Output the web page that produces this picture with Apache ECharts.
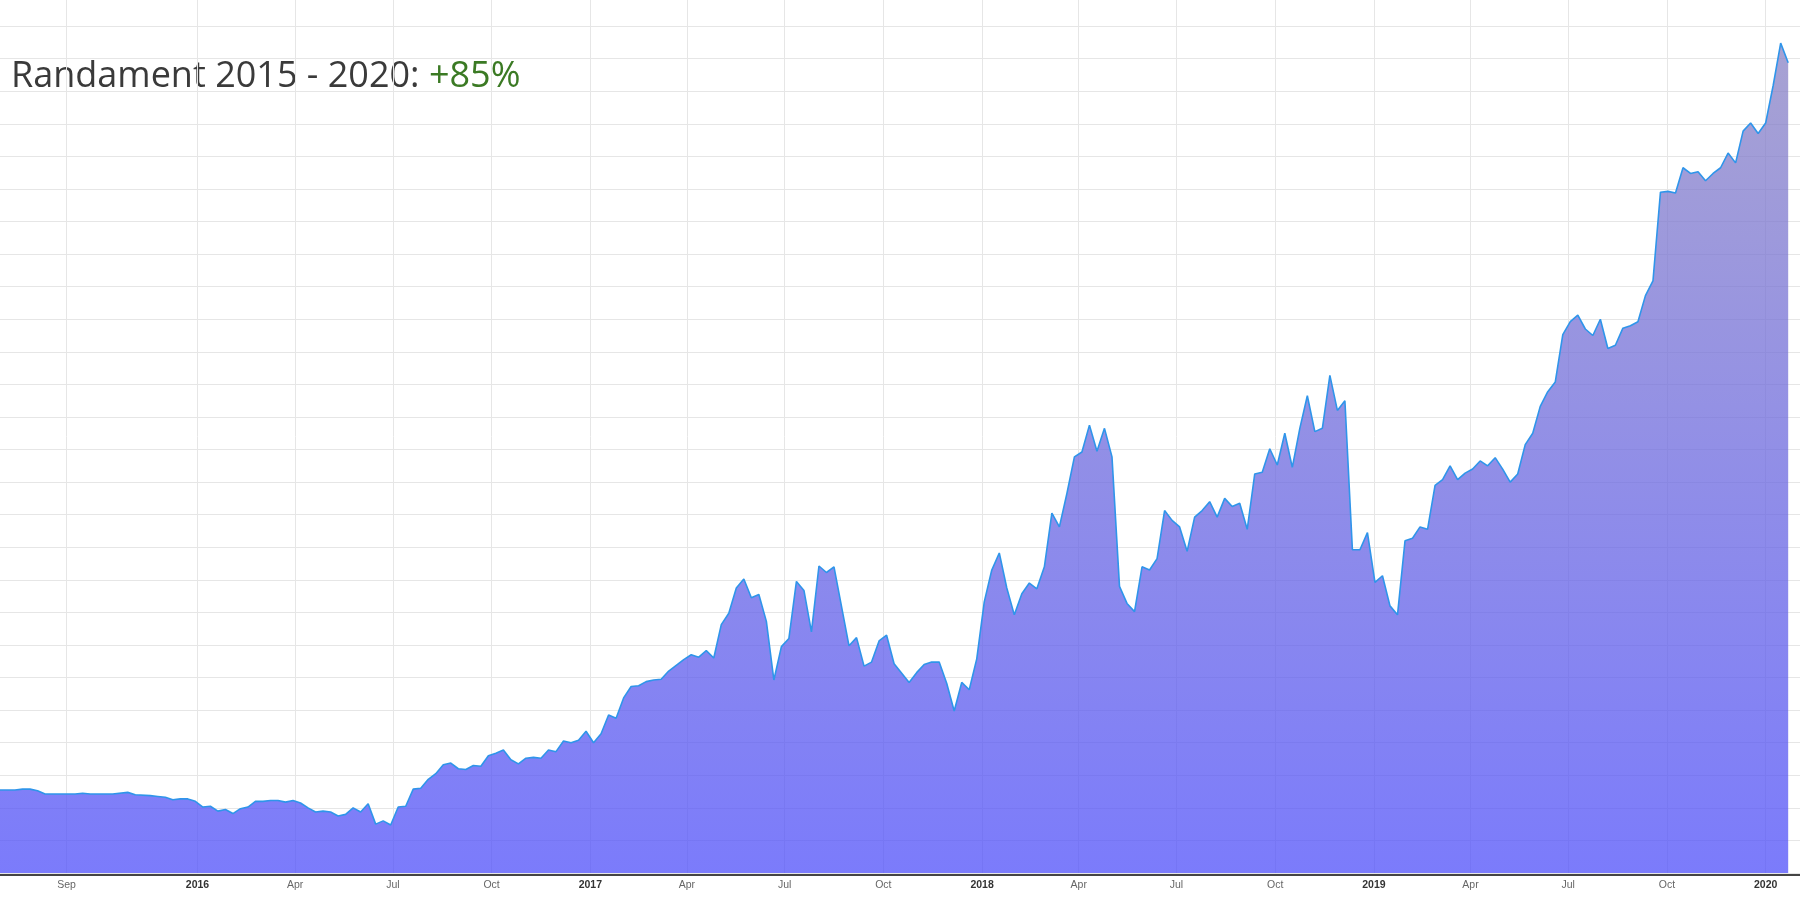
<!DOCTYPE html>
<html>
<head>
<meta charset="utf-8">
<script src="https://cdn.jsdelivr.net/npm/echarts@6/dist/echarts.min.js"></script>
<style>
html,body{margin:0;padding:0;background:#ffffff;}
#chart{width:1800px;height:897px;}
</style>
</head>
<body>
<div id="chart"></div>
<script>
// ---- data (weekly vertices) ----
const dates = [
'2015-07-01','2015-07-15','2015-07-22','2015-07-29','2015-08-05','2015-08-12','2015-08-26','2015-09-09','2015-09-16','2015-09-23',
'2015-10-14','2015-10-28','2015-11-04','2015-11-18','2015-11-25','2015-12-02','2015-12-09','2015-12-16','2015-12-23','2015-12-30',
'2016-01-06','2016-01-13','2016-01-20','2016-01-27','2016-02-03','2016-02-10','2016-02-17','2016-02-24','2016-03-02','2016-03-09',
'2016-03-16','2016-03-23','2016-03-30','2016-04-06','2016-04-13','2016-04-20','2016-04-27','2016-05-04','2016-05-11','2016-05-18',
'2016-05-25','2016-06-01','2016-06-08','2016-06-15','2016-06-22','2016-06-29','2016-07-06','2016-07-13','2016-07-20','2016-07-27',
'2016-08-03','2016-08-10','2016-08-17','2016-08-24','2016-08-31','2016-09-07','2016-09-14','2016-09-21','2016-09-28','2016-10-05',
'2016-10-12','2016-10-19','2016-10-26','2016-11-02','2016-11-09','2016-11-16','2016-11-23','2016-11-30','2016-12-07','2016-12-14',
'2016-12-21','2016-12-28','2017-01-04','2017-01-11','2017-01-18','2017-01-25','2017-02-01','2017-02-08','2017-02-15','2017-02-22',
'2017-03-01','2017-03-08','2017-03-15','2017-03-22','2017-03-29','2017-04-05','2017-04-12','2017-04-19','2017-04-26','2017-05-03',
'2017-05-10','2017-05-17','2017-05-24','2017-05-31','2017-06-07','2017-06-14','2017-06-21','2017-06-28','2017-07-05','2017-07-12',
'2017-07-19','2017-07-26','2017-08-02','2017-08-09','2017-08-16','2017-08-30','2017-09-06','2017-09-13','2017-09-20','2017-09-27',
'2017-10-04','2017-10-11','2017-10-25','2017-11-01','2017-11-08','2017-11-15','2017-11-22','2017-11-29','2017-12-06','2017-12-13',
'2017-12-20','2017-12-27','2018-01-03','2018-01-10','2018-01-17','2018-01-24','2018-01-31','2018-02-07','2018-02-14','2018-02-21',
'2018-02-28','2018-03-07','2018-03-14','2018-03-21','2018-03-28','2018-04-04','2018-04-11','2018-04-18','2018-04-25','2018-05-02',
'2018-05-09','2018-05-16','2018-05-23','2018-05-30','2018-06-06','2018-06-13','2018-06-20','2018-06-27','2018-07-04','2018-07-11',
'2018-07-18','2018-07-25','2018-08-01','2018-08-08','2018-08-15','2018-08-22','2018-08-29','2018-09-05','2018-09-12','2018-09-19',
'2018-09-26','2018-10-03','2018-10-10','2018-10-17','2018-10-24','2018-10-31','2018-11-07','2018-11-14','2018-11-21','2018-11-28',
'2018-12-05','2018-12-12','2018-12-19','2018-12-26','2019-01-02','2019-01-09','2019-01-16','2019-01-23','2019-01-30','2019-02-06',
'2019-02-13','2019-02-20','2019-02-27','2019-03-06','2019-03-13','2019-03-20','2019-03-27','2019-04-03','2019-04-10','2019-04-17',
'2019-04-24','2019-05-01','2019-05-08','2019-05-15','2019-05-22','2019-05-29','2019-06-05','2019-06-12','2019-06-19','2019-06-26',
'2019-07-03','2019-07-10','2019-07-17','2019-07-24','2019-07-31','2019-08-07','2019-08-14','2019-08-21','2019-08-28','2019-09-04',
'2019-09-11','2019-09-18','2019-09-25','2019-10-02','2019-10-09','2019-10-16','2019-10-23','2019-10-30','2019-11-06','2019-11-13',
'2019-11-20','2019-11-27','2019-12-04','2019-12-11','2019-12-18','2019-12-25','2020-01-01','2020-01-08','2020-01-15','2020-01-22'
];
const values = [
98.2,98.2,98.3,98.3,98.1,97.7,97.7,97.7,97.8,97.7,
97.7,97.9,97.6,97.5,97.4,97.3,97.0,97.1,97.1,96.8,
96.1,96.2,95.6,95.8,95.3,95.9,96.1,96.8,96.8,96.9,
96.9,96.7,96.9,96.6,96.0,95.5,95.6,95.5,95.0,95.2,
96.0,95.5,96.5,94.0,94.4,93.9,96.1,96.2,98.3,98.4,
99.5,100.2,101.3,101.5,100.8,100.7,101.2,101.1,102.4,102.7,
103.1,101.9,101.4,102.1,102.2,102.1,103.1,102.9,104.2,104.0,
104.3,105.4,104.0,105.1,107.4,107.0,109.5,110.9,111.0,111.5,
111.7,111.8,112.8,113.5,114.2,114.8,114.5,115.3,114.4,118.5,
119.9,123.0,124.1,121.8,122.2,118.9,111.7,115.8,116.8,123.8,
122.7,117.6,125.7,124.9,125.6,115.9,116.9,113.4,113.9,116.5,
117.2,113.7,111.4,112.6,113.6,113.9,113.9,111.3,107.9,111.4,
110.5,114.3,121.3,125.2,127.3,123.0,119.7,122.3,123.6,122.9,
125.6,132.2,130.5,134.6,139.1,139.7,143.0,139.8,142.6,139.1,
123.2,121.1,120.1,125.6,125.2,126.6,132.5,131.3,130.5,127.5,
131.7,132.5,133.6,131.7,134.0,133.0,133.4,130.2,137.0,137.2,
140.1,138.1,142.0,137.8,142.6,146.6,142.2,142.6,149.1,144.8,
146.0,127.7,127.7,129.8,123.7,124.5,120.8,119.7,128.8,129.1,
130.5,130.2,135.6,136.3,138.0,136.3,137.1,137.6,138.6,138.0,
139.0,137.6,136.0,137.0,140.6,142.0,145.3,147.1,148.3,154.1,
155.7,156.5,154.8,154.0,156.0,152.4,152.8,154.9,155.2,155.7,
158.9,160.7,171.6,171.7,171.5,174.6,173.9,174.1,173.0,173.9,
174.6,176.4,175.2,179.1,180.1,178.8,180.1,184.7,189.9,187.5
];
const tickDates = [
'2015-09-01','2016-01-01','2016-04-01','2016-07-01','2016-10-01',
'2017-01-01','2017-04-01','2017-07-01','2017-10-01',
'2018-01-01','2018-04-01','2018-07-01','2018-10-01',
'2019-01-01','2019-04-01','2019-07-01','2019-10-01','2020-01-01'
];
const tickLabels = [
'Sep','2016','Apr','Jul','Oct',
'2017','Apr','Jul','Oct',
'2018','Apr','Jul','Oct',
'2019','Apr','Jul','Oct','2020'
];
const titleText = 'Randament 2015 - 2020: ';
const returnText = '+85%';
const xStart = '2015-07-01';
const xEnd = '2020-02-02';
const yMin = 88, yMax = 195.2, yStep = 4;

// ---- build ----
function utc(s){ const p = s.split('-').map(Number); return Date.UTC(p[0], p[1]-1, p[2]); }
const tickTs = tickDates.map(utc);
const seriesData = dates.map((d, i) => [utc(d), values[i]]);
function labelFor(v){
  for (let i = 0; i < tickTs.length; i++) {
    if (Math.abs(tickTs[i] - v) < 43200000) {
      const l = tickLabels[i];
      return /^\d{4}$/.test(l) ? '{y|' + l + '}' : '{m|' + l + '}';
    }
  }
  return '';
}
// split-line colours: all light grey except the one at the very top edge
const nLines = Math.floor((yMax - yMin) / yStep) + 2;
const hColors = [];
for (let i = 0; i < nLines; i++) hColors.push(i === nLines - 1 ? 'rgba(0,0,0,0)' : '#e6e6e6');

const chart = echarts.init(document.getElementById('chart'), null, {renderer: 'canvas'});
chart.setOption({
  animation: false,
  backgroundColor: '#ffffff',
  grid: { left: 0, right: 0, top: 0, bottom: 24, containLabel: false },
  xAxis: {
    type: 'value',
    min: utc(xStart),
    max: utc(xEnd),
    offset: 2,
    axisLine: { show: true, lineStyle: { color: '#444444', width: 2 } },
    axisTick: { show: false, customValues: tickTs },
    axisLabel: {
      customValues: tickTs,
      margin: 5,
      formatter: labelFor,
      rich: {
        y: { fontFamily: 'Liberation Sans, Arial, sans-serif', fontSize: 10.5, fontWeight: 'bold', color: '#333333' },
        m: { fontFamily: 'Liberation Sans, Arial, sans-serif', fontSize: 10.5, color: '#666666' }
      }
    },
    splitLine: { show: true, lineStyle: { color: '#e6e6e6', width: 1 } }
  },
  yAxis: {
    type: 'value',
    min: yMin,
    max: yMax,
    interval: yStep,
    axisLine: { show: false },
    axisTick: { show: false },
    axisLabel: { show: false },
    splitLine: { show: true, lineStyle: { color: hColors, width: 1 } }
  },
  series: [{
    type: 'line',
    data: seriesData,
    showSymbol: false,
    symbol: 'none',
    smooth: false,
    lineStyle: { color: '#2f95ea', width: 1.6 },
    areaStyle: {
      opacity: 1,
      color: new echarts.graphic.LinearGradient(0, 0, 0, 1, [
        { offset: 0, color: 'rgba(138,131,195,0.75)' },
        { offset: 1, color: 'rgba(79,79,250,0.75)' }
      ])
    },
    emphasis: { disabled: true }
  }],
  graphic: [{
    type: 'text',
    left: 11,
    top: 59,
    style: {
      text: '{a|' + titleText + '}{b|' + returnText + '}',
      rich: {
        a: { fontFamily: 'Open Sans', fontSize: 36, fill: '#3a3a3a', lineHeight: 36 },
        b: { fontFamily: 'Open Sans', fontSize: 36, fill: '#3b7a24', lineHeight: 36 }
      }
    }
  }]
});
</script>
</body>
</html>
